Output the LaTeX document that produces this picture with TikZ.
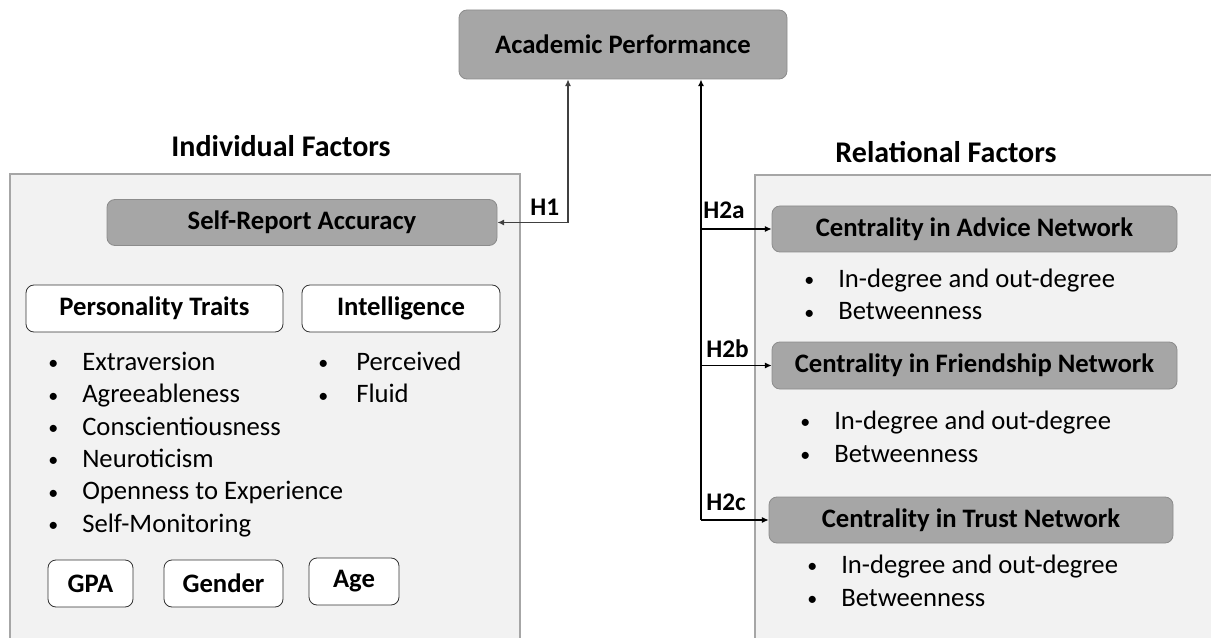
\documentclass[tikz,border=0pt]{standalone}
\usepackage{fontspec}
\setmainfont{Carlito}
\usetikzlibrary{arrows.meta}

\definecolor{boxgray}{HTML}{A6A6A6}
\definecolor{boxline}{HTML}{8C8C8C}
\definecolor{panelfill}{HTML}{F2F2F2}
\definecolor{panelline}{HTML}{A6A6A6}
\definecolor{h1gray}{HTML}{404040}

\newcommand\blt{\raisebox{0.5pt}{\scalebox{0.75}{\textbullet}}}

\tikzset{
  graybox/.style={draw=boxline, fill=boxgray, rounded corners=6pt, line width=0.6pt,
    font=\fontsize{20}{24}\selectfont\bfseries, inner sep=0pt},
  whitebox/.style={draw=black!80, fill=white, rounded corners=6pt, line width=0.6pt,
    font=\fontsize{20}{24}\selectfont\bfseries, inner sep=0pt},
  panel/.style={draw=panelline, fill=panelfill, line width=0.8pt},
  title/.style={font=\fontsize{22.5}{27}\selectfont\bfseries, anchor=base},
  hyp/.style={font=\fontsize{19}{23}\selectfont\bfseries, anchor=base west, inner sep=0pt},
  pt/.style={font=\fontsize{20}{24}\selectfont, anchor=base west, inner sep=0pt},
  tip/.style={-{Latex[length=5pt,width=4.5pt]}},
}

\begin{document}
\begin{tikzpicture}[x=0.75pt, y=-0.75pt]
\useasboundingbox (0,0) rectangle (1211,638);

% Panels
\draw[panel] (10,174) rectangle (520,650);
\draw[panel] (755,175) rectangle (1220,650);

% Outcome
\node[graybox, minimum width=246pt, minimum height=51.75pt] (acad) at (623,44.5) {Academic Performance};

% Titles
\node[title] (indtitle) at (281,157) {Individual Factors};
\node[title] (reltitle) at (946,163) {Relational Factors};

% Individual factors
\node[graybox, minimum width=292.5pt, minimum height=34.5pt] (selfrep) at (302,222.5) {Self-Report Accuracy};
\node[whitebox, minimum width=192.75pt, minimum height=35.25pt] (pers) at (154.5,308.5) {Personality Traits};
\node[whitebox, minimum width=148.5pt, minimum height=35.25pt] (intel) at (401,308.5) {Intelligence};

\foreach \t [count=\i] in {Extraversion, Agreeableness, Conscientiousness, Neuroticism, Openness to Experience, Self-Monitoring}{
  \node[pt] (trait\i) at (48,{370.5+32.3*(\i-1)}) {\makebox[25.5pt][l]{\blt}\t};
}
\foreach \t [count=\i] in {Perceived, Fluid}{
  \node[pt] (iq\i) at (318,{370.5+32.3*(\i-1)}) {\makebox[28.5pt][l]{\blt}\t};
}

\node[whitebox, minimum width=63.75pt, minimum height=35.25pt] (gpa) at (90.5,583.5) {GPA};
\node[whitebox, minimum width=89.25pt, minimum height=35.25pt] (gender) at (223.5,583.5) {Gender};
\node[whitebox, minimum width=67.5pt, minimum height=35.25pt] (age) at (354,581.5) {Age};

% Relational factors
\node[graybox, minimum width=303.75pt, minimum height=34.5pt] (advice) at (974.5,229) {Centrality in Advice Network};
\node[graybox, minimum width=303.75pt, minimum height=35.25pt] (friend) at (974.5,365.5) {Centrality in Friendship Network};
\node[graybox, minimum width=303pt, minimum height=34.5pt] (trust) at (971,520) {Centrality in Trust Network};

\foreach \n/\x/\y in {adv/804/287, fr/800/429, tr/807/573}{
  \node[pt] (\n1) at (\x,\y) {\makebox[25.5pt][l]{\blt}In-degree and out-degree};
  \node[pt] (\n2) at (\x,\y+33) {\makebox[25.5pt][l]{\blt}Betweenness};
}

% Hypotheses
\coordinate (h1) at (568,0);
\coordinate (h2) at (701,0);
\draw[h1gray, line width=0.9pt, {Latex[length=5pt,width=4.5pt]}-{Latex[length=5pt,width=4.5pt]}] (selfrep.east) -| (h1 |- acad.south);
\draw[tip, line width=1.6pt] (h2 |- trust.west) -- (h2 |- acad.south);
\draw[tip, line width=0.8pt] (h2 |- advice.west) -- (advice.west);
\draw[tip, line width=0.8pt] (h2 |- friend.west) -- (friend.west);
\draw[tip, line width=0.8pt] (h2 |- trust.west) -- (trust.west);

\node[hyp] (lh1) at (530,216) {H1};
\node[hyp] (lh2a) at (703,219) {H2a};
\node[hyp] (lh2b) at (706,357) {H2b};
\node[hyp] (lh2c) at (706,510) {H2c};

\end{tikzpicture}
\end{document}
